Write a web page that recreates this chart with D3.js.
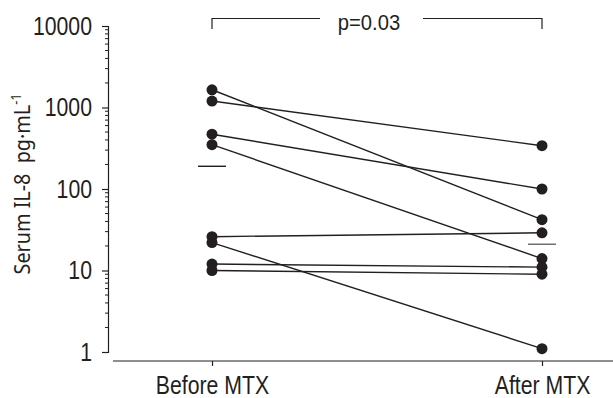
<!DOCTYPE html>
<html>
<head>
<meta charset="utf-8">
<script src="https://cdn.jsdelivr.net/npm/d3@7"></script>
<style>
  body { margin: 0; background: #fff; }
  svg { display: block; }
  .tick text { font-family: "Liberation Sans", Arial, sans-serif; fill: #231f20; }
</style>
</head>
<body>
<div id="chart"></div>
<script>
const groups = ["Before MTX", "After MTX"]
// paired patient values, before -> after
const before = [1650, 1200, 470, 350, 26, 22, 12, 10]
const after = [42, 340, 100, 14, 29, 1.1, 11, 9]
const medians = [190, 21]
const yTicks = [1, 10, 100, 1000, 10000]
const pText = "p=0.03"

const width = 613, height = 398
const ink = "#231f20"

const svg = d3.select("#chart").append("svg")
  .attr("width", width)
  .attr("height", height)

const x = d3.scalePoint().domain(groups).range([212, 542])
const y = d3.scaleLog().domain([1, 10000]).range([352, 26])

// y axis: major + minor log ticks
const minor = []
for (let d = 1; d < 10000; d *= 10) {
  for (let k = 2; k <= 9; k++) minor.push(d * k)
}

const yAxis = svg.append("g")
  .attr("transform", "translate(108,0)")
  .call(d3.axisLeft(y).tickValues(yTicks).tickFormat(d3.format("d")).tickSize(6))
yAxis.select(".domain").attr("stroke", ink).attr("stroke-width", 1.2)
yAxis.selectAll(".tick line").attr("stroke", ink).attr("stroke-width", 1.2)
// condensed look: squeeze the glyphs horizontally
yAxis.selectAll(".tick text")
  .attr("x", 0)
  .attr("font-size", 25)
  .attr("transform", "translate(-16,0) scale(0.85,1)")

svg.append("g")
  .attr("transform", "translate(108,0)")
  .selectAll("line")
  .data(minor)
  .join("line")
  .attr("x1", -3)
  .attr("x2", 0)
  .attr("y1", d => y(d))
  .attr("y2", d => y(d))
  .attr("stroke", ink)
  .attr("stroke-width", 1)

// x axis
const xAxis = svg.append("g")
  .attr("transform", "translate(0,361)")
  .call(d3.axisBottom(x).tickSize(5))
xAxis.select(".domain").remove()
xAxis.append("line")
  .attr("x1", 113).attr("x2", 613)
  .attr("stroke", ink).attr("stroke-width", 1.2)
xAxis.selectAll(".tick line").attr("stroke", ink).attr("stroke-width", 1.2)
xAxis.selectAll(".tick text")
  .attr("y", 0)
  .attr("dy", null)
  .attr("font-size", 25)
  .attr("transform", "translate(0,33) scale(0.85,1)")

// y label
svg.append("text")
  .attr("transform", "translate(30,184) rotate(-90) scale(0.9,1)")
  .attr("text-anchor", "middle")
  .attr("font-family", "Noto Sans, Open Sans, sans-serif")
  .attr("font-size", 22)
  .attr("fill", ink)
  .html('Serum IL-8\u00a0\u00a0pg\u00b7mL<tspan dy="-9" font-size="14">-1</tspan>')

// paired lines
const pairs = before.map((b, i) => ({ b, a: after[i] }))

svg.append("g")
  .selectAll("line")
  .data(pairs)
  .join("line")
  .attr("x1", x(groups[0]))
  .attr("x2", x(groups[1]))
  .attr("y1", d => y(d.b))
  .attr("y2", d => y(d.a))
  .attr("stroke", ink)
  .attr("stroke-width", 1.4)

const pts = svg.append("g").attr("fill", ink)
pts.selectAll(".pb")
  .data(before)
  .join("circle")
  .attr("class", "pb")
  .attr("cx", x(groups[0]))
  .attr("cy", d => y(d))
  .attr("r", 5.5)
pts.selectAll(".pa")
  .data(after)
  .join("circle")
  .attr("class", "pa")
  .attr("cx", x(groups[1]))
  .attr("cy", d => y(d))
  .attr("r", 5.5)

// median bars
svg.append("g")
  .selectAll("line")
  .data(medians)
  .join("line")
  .attr("x1", (d, i) => x(groups[i]) - 14)
  .attr("x2", (d, i) => x(groups[i]) + 14)
  .attr("y1", d => y(d))
  .attr("y2", d => y(d))
  .attr("stroke", (d, i) => i === 0 ? ink : "#666")
  .attr("stroke-width", 1.4)

// significance bracket
const bx0 = x(groups[0]), bx1 = x(groups[1])
const br = svg.append("g").attr("stroke", ink).attr("stroke-width", 1.2).attr("fill", "none")
br.append("path").attr("d", `M${bx0},29V18.5H320`)
br.append("path").attr("d", `M423,18.5H${bx1}V29`)
svg.append("text")
  .attr("transform", "translate(369,30) scale(0.92,1)")
  .attr("text-anchor", "middle")
  .attr("font-family", "Liberation Sans, Arial, sans-serif")
  .attr("font-size", 22)
  .attr("fill", ink)
  .text(pText)
</script>
</body>
</html>
